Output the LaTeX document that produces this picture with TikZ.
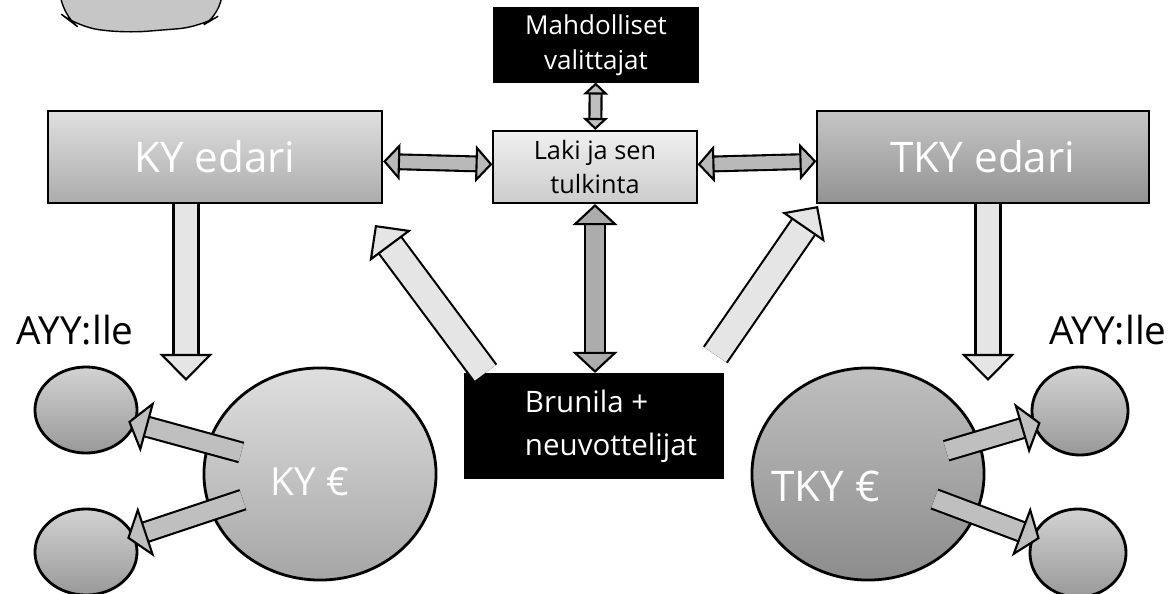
\documentclass[tikz,border=0pt]{standalone}
\usepackage{fontspec}
\setmainfont{Open Sans}
\usetikzlibrary{arrows.meta}
\usetikzlibrary{shapes.geometric}
\tikzset{box/.style={rectangle, draw=black, line width=0.6pt, inner sep=0pt, align=center}}
\tikzset{blackbox/.style={box, fill=black, text=white}}
\tikzset{edari/.style={box, minimum width=3.34cm, minimum height=0.92cm, text=white, font=\fontsize{12}{14}\selectfont}}
\tikzset{coin/.style={ellipse, draw=black, line width=0.8pt, inner sep=0pt}}
\tikzset{bigcoin/.style={coin, minimum width=2.32cm, minimum height=2.12cm}}
\tikzset{smallcoin/.style={coin, minimum width=1.02cm, minimum height=0.86cm, top color=gray!35, bottom color=gray!80}}
\tikzset{block/.style n args={4}{draw=black, line width=0.6pt, double=#4, double distance=#1,
   -{Triangle[width=#2, length=#3, line width=0.6pt, fill=#4]}}}
\tikzset{twoway/.style n args={4}{draw=black, line width=0.6pt, double=#4, double distance=#1,
   {Triangle[width=#2, length=#3, line width=0.6pt, fill=#4]}-{Triangle[width=#2, length=#3, line width=0.6pt, fill=#4]}}}
\tikzset{coinarrow/.style={block={5.1pt}{15pt}{5.7pt}{gray!50}, shorten <=-0.35cm, shorten >=-0.08cm}}

\begin{document}
\begin{tikzpicture}[x=0.01cm, y=-0.01cm]

    \useasboundingbox[fill=white] (0,0) rectangle (1172,594);

    \draw[fill=gray!45, rounded corners=6pt] (60,-10) -- (61,14) -- (78,27) -- (125,33) -- (200,27) -- (222,14) -- (222,-10);

    \node[blackbox, minimum width=2.03cm, minimum height=0.73cm, font=\fontsize{7.4}{10}\selectfont] (valittajat) at (596,45) {Mahdolliset\\valittajat};
    \node[box, minimum width=2.03cm, minimum height=0.72cm, top color=gray!12, bottom color=gray!40, font=\fontsize{7.2}{9.4}\selectfont] (laki) at (595,167) {Laki ja sen\\tulkinta};
    \node[edari, top color=gray!25, bottom color=gray!65] (kyedari) at (215,157) {KY edari};
    \node[edari, top color=gray!45, bottom color=gray!85, minimum width=3.31cm] (tkyedari) at (983,157) {TKY edari};
    \node[blackbox, minimum width=2.58cm, minimum height=1.04cm,
      label={[text=white, align=left, xshift=0.17cm, font=\fontsize{8.4}{12.2}\selectfont]center:Brunila +\\neuvottelijat}] (brunila) at (594,426) {};

    \node[font=\fontsize{11}{13}\selectfont] (ayyleft) at (75,330) {AYY:lle};
    \node[font=\fontsize{11}{13}\selectfont] (ayyright) at (1108,330) {AYY:lle};

    \node[bigcoin, top color=gray!25, bottom color=gray!70,
      label={[text=white, xshift=-0.1cm, yshift=-0.08cm, font=\fontsize{11}{13}\selectfont]center:KY~€}] (kyraha) at (320,474) {};
    \node[bigcoin, top color=gray!50, bottom color=gray!90,
      label={[text=white, xshift=-0.42cm, yshift=-0.12cm, font=\fontsize{12}{14}\selectfont]center:TKY~€}] (tkyraha) at (868,474) {};
    \node[smallcoin] (ayy1) at (86,410) {};
    \node[smallcoin] (ayy2) at (86,552) {};
    \node[smallcoin, minimum width=0.96cm, minimum height=0.88cm] (ayy3) at (1080,411) {};
    \node[smallcoin, minimum width=0.96cm, minimum height=0.88cm] (ayy4) at (1078,553) {};

    \coordinate (kytip) at (375,225);
    \coordinate (tkytip) at (818,206);
    \coordinate (kydown) at (186,381);
    \coordinate (tkydown) at (988,381);

    \draw[twoway={2.8pt}{7.1pt}{3.4pt}{gray!50}] (valittajat) -- (laki);
    \draw[twoway={3.6pt}{10.5pt}{4.8pt}{gray!55}] (kyedari) -- (laki);
    \draw[twoway={3.6pt}{10.5pt}{4.8pt}{gray!55}] (laki) -- (tkyedari);
    \draw[twoway={5.1pt}{12.8pt}{6pt}{gray!65}] (laki) -- (laki |- brunila.north);

    \draw[block={7.3pt}{14.8pt}{7.4pt}{gray!20}] (brunila.154) -- (kytip);
    \draw[block={7.3pt}{14.8pt}{7.4pt}{gray!20}, shorten <=0.22cm] (brunila.26) -- (tkytip);
    \draw[block={6.5pt}{15pt}{7.7pt}{gray!20}] (kydown |- kyedari.south) -- (kydown);
    \draw[block={6.5pt}{15pt}{7.7pt}{gray!20}] (tkydown |- tkyedari.south) -- (tkydown);

    \draw[coinarrow] (kyraha) -- (ayy1);
    \draw[coinarrow] (kyraha) -- (ayy2);
    \draw[coinarrow] (tkyraha) -- (ayy3);
    \draw[coinarrow, shorten <=-0.45cm] (tkyraha) -- (ayy4);

  \end{tikzpicture}
\end{document}
